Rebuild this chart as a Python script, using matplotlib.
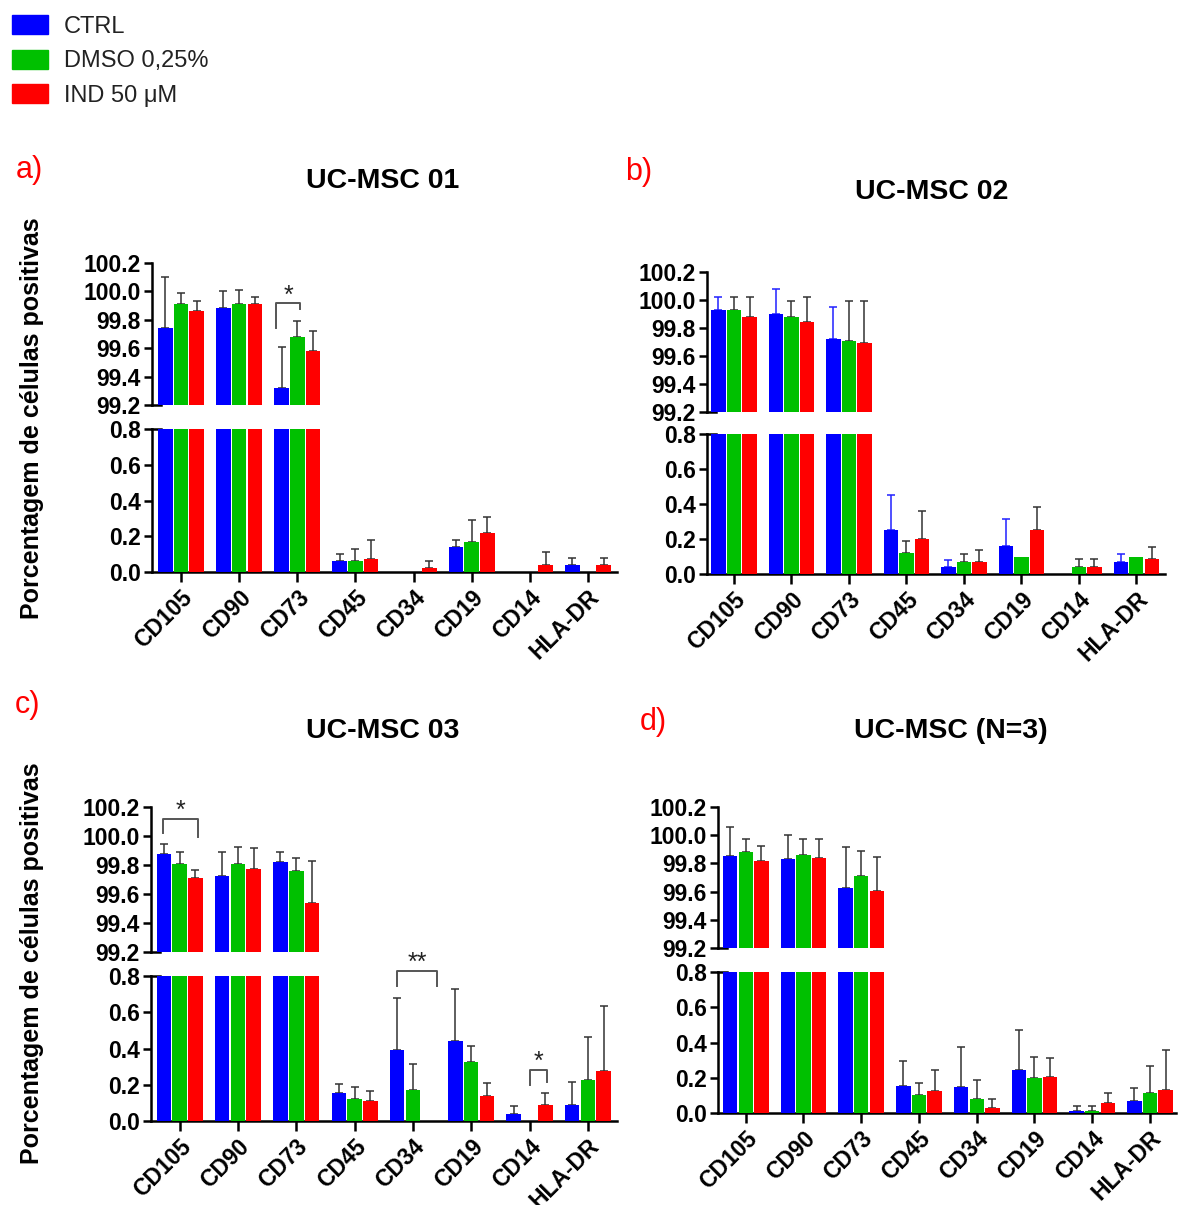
import matplotlib
matplotlib.use("Agg")
import matplotlib.pyplot as plt
from matplotlib.patches import Patch
from matplotlib.ticker import FormatStrFormatter
import numpy as np

plt.rcParams['font.family'] = ['Liberation Sans', 'DejaVu Sans']

markers = ["CD105", "CD90", "CD73", "CD45", "CD34", "CD19", "CD14", "HLA-DR"]
groups = ["CTRL", "DMSO 0,25%", "IND 50 \u03bcM"]
colors = ["#0000FF", "#00C000", "#FF0000"]

# UC-MSC 01
msc01_ctrl = [99.74, 99.88, 99.32, 0.06, 0.0, 0.14, 0.0, 0.04]
msc01_ctrl_err = [0.36, 0.12, 0.29, 0.04, 0.0, 0.04, 0.0, 0.04]
msc01_dmso = [99.91, 99.91, 99.68, 0.06, 0.0, 0.17, 0.0, 0.0]
msc01_dmso_err = [0.08, 0.10, 0.11, 0.07, 0.0, 0.12, 0.0, 0.0]
msc01_ind = [99.86, 99.91, 99.58, 0.07, 0.02, 0.22, 0.04, 0.04]
msc01_ind_err = [0.07, 0.05, 0.14, 0.11, 0.04, 0.09, 0.07, 0.04]

# UC-MSC 02
msc02_ctrl = [99.93, 99.90, 99.72, 0.25, 0.04, 0.16, 0.0, 0.07]
msc02_ctrl_err = [0.09, 0.18, 0.23, 0.20, 0.04, 0.155, 0.0, 0.045]
msc02_dmso = [99.93, 99.88, 99.71, 0.12, 0.07, 0.10, 0.04, 0.10]
msc02_dmso_err = [0.09, 0.11, 0.28, 0.07, 0.045, 0.0, 0.045, 0.0]
msc02_ind = [99.88, 99.845, 99.69, 0.20, 0.07, 0.25, 0.04, 0.085]
msc02_ind_err = [0.14, 0.175, 0.30, 0.16, 0.07, 0.13, 0.045, 0.07]

# UC-MSC 03
msc03_ctrl = [99.875, 99.725, 99.82, 0.155, 0.39, 0.44, 0.04, 0.09]
msc03_ctrl_err = [0.07, 0.165, 0.07, 0.05, 0.29, 0.29, 0.045, 0.125]
msc03_dmso = [99.805, 99.805, 99.76, 0.12, 0.17, 0.325, 0.0, 0.225]
msc03_dmso_err = [0.085, 0.12, 0.09, 0.07, 0.145, 0.09, 0.0, 0.24]
msc03_ind = [99.71, 99.775, 99.54, 0.11, 0.0, 0.14, 0.09, 0.275]
msc03_ind_err = [0.055, 0.14, 0.29, 0.055, 0.0, 0.07, 0.065, 0.36]

# UC-MSC (N=3)
mscall_ctrl = [99.85, 99.83, 99.625, 0.155, 0.145, 0.245, 0.013, 0.066]
mscall_ctrl_err = [0.21, 0.17, 0.29, 0.14, 0.23, 0.225, 0.025, 0.076]
mscall_dmso = [99.88, 99.86, 99.71, 0.10, 0.08, 0.20, 0.013, 0.113]
mscall_dmso_err = [0.09, 0.11, 0.175, 0.07, 0.105, 0.12, 0.025, 0.155]
mscall_ind = [99.815, 99.84, 99.605, 0.125, 0.03, 0.205, 0.055, 0.132]
mscall_ind_err = [0.11, 0.13, 0.24, 0.12, 0.05, 0.105, 0.06, 0.225]

fig = plt.figure(figsize=(11.79, 12.05), dpi=100)
W, H = 1179.0, 1205.0
TICK_FS = 16.5
XTICK_FS = 16.5


def px_axes(left, right, top, bottom):
    return fig.add_axes([left / W, 1 - bottom / H, (right - left) / W, (bottom - top) / H])


def draw_panel(rect_top, rect_bot, xlim, series, errs, err_colors):
    ax_t = px_axes(*rect_top)
    ax_b = px_axes(*rect_bot)
    x = np.arange(len(markers))
    offsets = [-0.27, 0.0, 0.27]
    for ax in (ax_t, ax_b):
        for vals, err, off, col, ecol in zip(series, errs, offsets, colors, err_colors):
            ax.bar(x + off, vals, width=0.25, color=col, zorder=3)
            vals = np.array(vals)
            err = np.array(err)
            m = err > 0
            ax.errorbar(x[m] + off, vals[m], yerr=[np.zeros(m.sum()), err[m]], fmt='none',
                        ecolor=ecol, elinewidth=1.1, capsize=3, capthick=1.1, zorder=2)
        ax.set_xlim(*xlim)
        for s in ("top", "right"):
            ax.spines[s].set_visible(False)
        ax.spines["left"].set_linewidth(1.8)
        ax.spines["bottom"].set_linewidth(1.8)
        ax.tick_params(axis='y', direction='out', length=6, width=1.8, labelsize=TICK_FS, pad=2)
    ax_t.set_ylim(99.2, 100.2)
    ax_t.set_yticks(np.arange(99.2, 100.21, 0.2))
    ax_t.yaxis.set_major_formatter(FormatStrFormatter('%.1f'))
    ax_t.spines["bottom"].set_visible(False)
    ax_t.set_xticks([])
    ax_b.set_ylim(0, 0.8)
    ax_b.set_yticks(np.arange(0, 0.81, 0.2))
    ax_b.yaxis.set_major_formatter(FormatStrFormatter('%.1f'))
    ax_b.set_xticks(x)
    ax_b.set_xticklabels(markers, rotation=45, ha='right', rotation_mode='anchor',
                         fontsize=XTICK_FS, fontweight='bold')
    ax_b.tick_params(axis='x', direction='out', length=7, width=1.8, pad=3)
    for lab in ax_t.get_yticklabels() + ax_b.get_yticklabels():
        lab.set_fontweight('bold')
    # break marks
    ax_t.plot([0, 0.02], [99.2, 99.2], transform=ax_t.get_yaxis_transform(),
              color='black', lw=1.8, clip_on=False)
    ax_b.plot([0, 0.02], [0.8, 0.8], transform=ax_b.get_yaxis_transform(),
              color='black', lw=1.8, clip_on=False)
    return ax_t, ax_b


def bracket(ax, x1, x2, ytop, yl, yr, label):
    ax.plot([x1, x1, x2, x2], [yl, ytop, ytop, yr], color='#555555', lw=1.4,
            clip_on=False, zorder=4)
    ax.annotate(label, xy=((x1 + x2) / 2, ytop), xytext=(0, -3), textcoords='offset points',
                ha='center', va='bottom', fontsize=18, color='#222222', annotation_clip=False)


black = '#333333'
# a)
a_t, a_b = draw_panel((152, 617, 263, 405), (152, 617, 429, 572), (-0.5, 7.5),
                      [msc01_ctrl, msc01_dmso, msc01_ind],
                      [msc01_ctrl_err, msc01_dmso_err, msc01_ind_err],
                      [black, black, black])
bracket(a_t, 1.63, 2.05, 99.915, 99.74, 99.875, '*')

# b)
b_t, b_b = draw_panel((707, 1165, 272, 412), (707, 1165, 434, 574), (-0.47, 7.5),
                      [msc02_ctrl, msc02_dmso, msc02_ind],
                      [msc02_ctrl_err, msc02_dmso_err, msc02_ind_err],
                      ['#2020FF', black, black])

# c)
c_t, c_b = draw_panel((151, 617, 807, 952), (151, 617, 976, 1121), (-0.49, 7.5),
                      [msc03_ctrl, msc03_dmso, msc03_ind],
                      [msc03_ctrl_err, msc03_dmso_err, msc03_ind_err],
                      [black, black, black])
bracket(c_t, -0.29, 0.31, 100.12, 100.024, 99.99, '*')
bracket(c_b, 3.73, 4.41, 0.83, 0.745, 0.745, '**')
bracket(c_b, 6.0, 6.3, 0.283, 0.197, 0.215, '*')

# d)
d_t, d_b = draw_panel((718, 1176, 807, 948), (718, 1176, 972, 1113), (-0.48, 7.45),
                      [mscall_ctrl, mscall_dmso, mscall_ind],
                      [mscall_ctrl_err, mscall_dmso_err, mscall_ind_err],
                      [black, black, black])

# titles and panel letters
for txt, cx, cy in [("UC-MSC 01", 383, 181), ("UC-MSC 02", 932, 192),
                    ("UC-MSC 03", 383, 731), ("UC-MSC (N=3)", 951, 731)]:
    fig.text(cx / W, 1 - cy / H, txt, ha='center', va='center', fontsize=20.5, fontweight='bold')
for txt, cx, cy in [("a)", 29, 170), ("b)", 639, 172), ("c)", 28, 705), ("d)", 653, 722)]:
    fig.text(cx / W, 1 - cy / H, txt, ha='center', va='center', fontsize=22, color='#FF0000')

ylab = "Porcentagem de células positivas"
fig.text(32 / W, 1 - 418 / H, ylab, rotation=90, ha='center', va='center',
         fontsize=18, fontweight='bold')
fig.text(32 / W, 1 - 963 / H, ylab, rotation=90, ha='center', va='center',
         fontsize=18, fontweight='bold')

handles = [Patch(facecolor=c, edgecolor=c) for c in colors]
fig.legend(handles, groups, loc='upper left', bbox_to_anchor=(0.002, 0.995), frameon=False,
           fontsize=17, handlelength=1.55, handleheight=0.85, handletextpad=0.65,
           labelspacing=0.5, borderpad=0.4, borderaxespad=0, labelcolor='#222222')

fig.savefig("out.png", dpi=100)
